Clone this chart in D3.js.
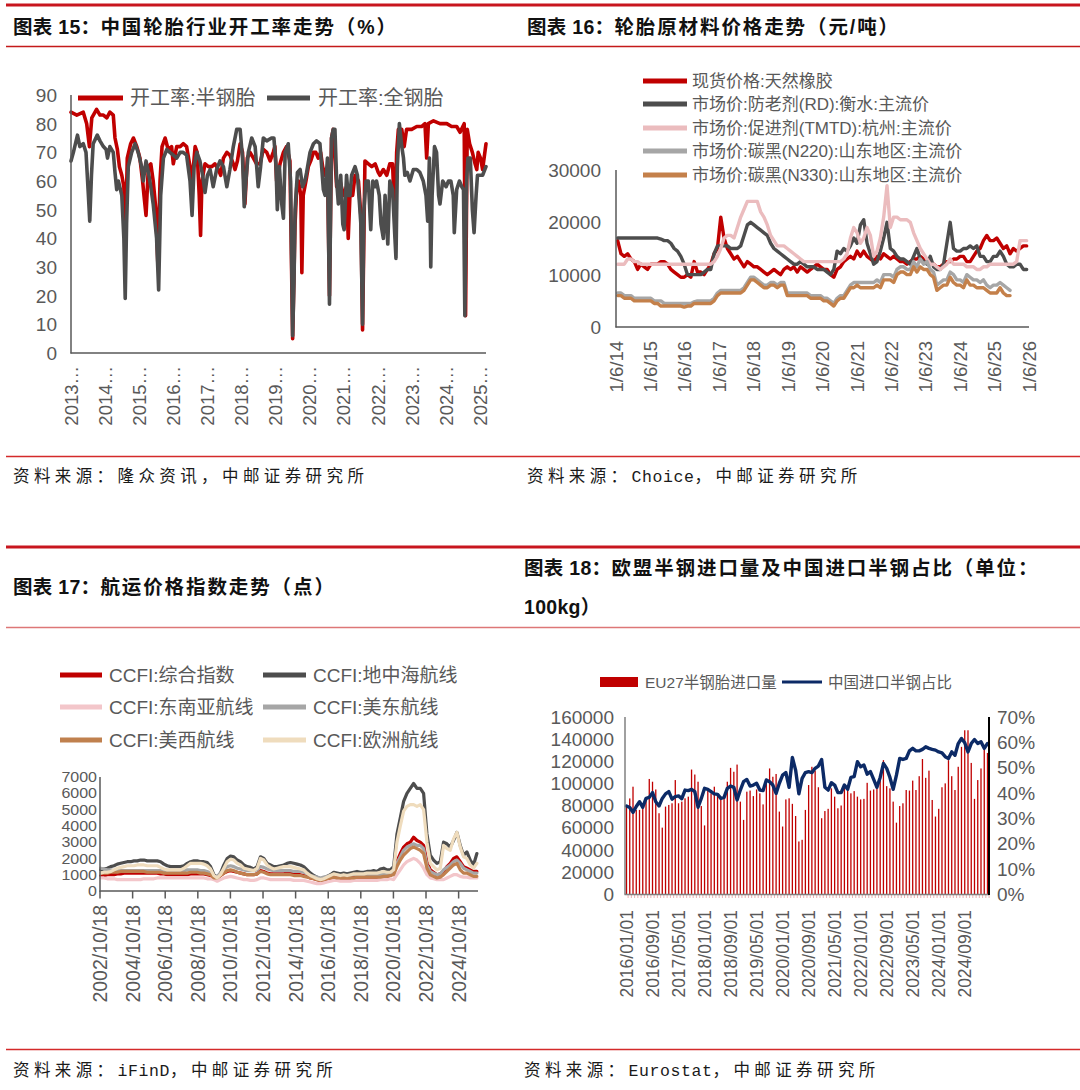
<!DOCTYPE html>
<html><head><meta charset="utf-8">
<script src="https://cdn.jsdelivr.net/npm/d3@7"></script>
<style>
body{margin:0;background:#fff;}
svg text{font-family:"Liberation Sans","Noto Sans CJK SC",sans-serif;}
</style></head><body>
<svg id="c" width="1080" height="1090"></svg>
<script>
// ---------------- DATA ----------------
// Chart 15: operating rate (%), [decimal year, value]
const rateSemi = [[2013.00,84],[2013.17,83],[2013.36,84],[2013.46,80],[2013.54,72],[2013.61,82],[2013.75,85],[2013.85,83],[2013.95,83],[2014.05,82],[2014.14,84],[2014.24,83],[2014.29,75],[2014.36,71],[2014.42,65],[2014.49,62],[2014.55,58],[2014.59,35],[2014.65,68],[2014.75,73],[2014.83,75],[2014.93,72],[2015.02,68],[2015.10,60],[2015.14,55],[2015.20,48],[2015.27,65],[2015.34,66],[2015.41,60],[2015.49,50],[2015.55,30],[2015.61,60],[2015.67,72],[2015.76,75],[2015.85,71],[2015.95,72],[2016.00,66],[2016.10,72],[2016.20,72],[2016.29,73],[2016.39,72],[2016.49,65],[2016.54,58],[2016.64,72],[2016.70,70],[2016.76,55],[2016.80,41],[2016.84,60],[2016.93,66],[2017.03,65],[2017.13,65],[2017.22,66],[2017.32,64],[2017.39,62],[2017.47,68],[2017.57,70],[2017.66,69],[2017.76,66],[2017.81,64],[2017.88,67],[2017.96,73],[2018.03,70],[2018.10,52],[2018.17,68],[2018.25,70],[2018.35,68],[2018.44,66],[2018.54,66],[2018.64,71],[2018.74,70],[2018.84,67],[2018.93,70],[2018.98,72],[2019.03,60],[2019.13,66],[2019.23,70],[2019.32,72],[2019.42,67],[2019.50,5],[2019.57,45],[2019.62,58],[2019.67,60],[2019.74,55],[2019.77,28],[2019.81,55],[2019.89,60],[2019.96,65],[2020.03,67],[2020.11,70],[2020.18,70],[2020.25,68],[2020.32,70],[2020.38,65],[2020.45,62],[2020.52,65],[2020.58,20],[2020.64,75],[2020.69,78],[2020.79,58],[2020.89,60],[2020.99,55],[2021.08,58],[2021.13,40],[2021.18,55],[2021.26,55],[2021.33,62],[2021.43,60],[2021.50,48],[2021.55,8],[2021.62,67],[2021.72,66],[2021.82,65],[2021.92,66],[2022.01,63],[2022.06,62],[2022.16,64],[2022.26,62],[2022.35,66],[2022.43,66],[2022.50,45],[2022.55,70],[2022.60,78],[2022.70,78],[2022.77,72],[2022.84,78],[2022.99,78],[2023.14,79],[2023.28,79],[2023.38,80],[2023.43,68],[2023.48,80],[2023.63,81],[2023.82,80],[2024.02,80],[2024.16,79],[2024.31,79],[2024.41,77],[2024.53,80],[2024.57,13],[2024.62,78],[2024.69,73],[2024.77,70],[2024.85,66],[2024.90,64],[2024.94,70],[2025.01,68],[2025.07,64],[2025.17,73]];
const rateAll = [[2013.00,67],[2013.07,70],[2013.19,76],[2013.26,72],[2013.36,73],[2013.44,70],[2013.51,55],[2013.55,46],[2013.60,62],[2013.65,73],[2013.77,76],[2013.85,74],[2013.95,72],[2014.03,71],[2014.07,68],[2014.14,72],[2014.24,70],[2014.29,63],[2014.34,57],[2014.39,60],[2014.49,55],[2014.55,40],[2014.59,19],[2014.63,45],[2014.68,65],[2014.78,70],[2014.88,73],[2014.97,70],[2015.07,65],[2015.12,60],[2015.20,67],[2015.27,63],[2015.34,58],[2015.41,52],[2015.51,40],[2015.57,22],[2015.63,55],[2015.71,68],[2015.81,71],[2015.90,70],[2016.00,69],[2016.10,68],[2016.20,70],[2016.29,70],[2016.39,69],[2016.49,60],[2016.55,48],[2016.61,65],[2016.69,70],[2016.78,67],[2016.86,62],[2016.93,56],[2017.00,62],[2017.08,64],[2017.17,58],[2017.27,64],[2017.37,67],[2017.47,65],[2017.57,58],[2017.66,64],[2017.76,72],[2017.86,78],[2017.96,78],[2018.03,68],[2018.08,51],[2018.13,60],[2018.20,70],[2018.30,75],[2018.40,72],[2018.49,58],[2018.56,65],[2018.64,75],[2018.74,74],[2018.88,75],[2018.95,75],[2019.01,66],[2019.05,50],[2019.11,65],[2019.18,52],[2019.23,47],[2019.28,70],[2019.37,73],[2019.44,60],[2019.50,6],[2019.54,25],[2019.57,50],[2019.64,63],[2019.72,64],[2019.79,58],[2019.86,60],[2019.91,63],[2020.01,70],[2020.11,73],[2020.20,74],[2020.30,73],[2020.35,65],[2020.40,57],[2020.45,55],[2020.52,68],[2020.58,17],[2020.64,75],[2020.69,78],[2020.74,78],[2020.79,60],[2020.84,52],[2020.91,62],[2020.97,45],[2021.01,43],[2021.08,62],[2021.13,55],[2021.18,55],[2021.23,62],[2021.33,65],[2021.40,62],[2021.46,52],[2021.50,45],[2021.55,10],[2021.59,50],[2021.65,60],[2021.72,60],[2021.79,43],[2021.85,60],[2021.92,58],[2021.96,60],[2022.04,55],[2022.09,45],[2022.16,40],[2022.21,55],[2022.26,45],[2022.29,38],[2022.35,60],[2022.43,57],[2022.50,40],[2022.53,33],[2022.57,65],[2022.63,80],[2022.70,72],[2022.75,68],[2022.79,62],[2022.86,63],[2022.94,60],[2023.04,64],[2023.14,64],[2023.23,63],[2023.33,60],[2023.41,55],[2023.46,46],[2023.51,68],[2023.55,30],[2023.59,55],[2023.66,72],[2023.72,70],[2023.78,55],[2023.82,52],[2023.90,60],[2024.00,58],[2024.07,60],[2024.14,60],[2024.21,55],[2024.24,42],[2024.31,57],[2024.39,60],[2024.46,58],[2024.51,57],[2024.55,13],[2024.60,60],[2024.64,68],[2024.71,68],[2024.77,50],[2024.82,42],[2024.88,55],[2024.92,62],[2024.99,62],[2025.07,62],[2025.17,65]];
const years15 = [2013,2014,2015,2016,2017,2018,2019,2020,2021,2022,2023,2024,2025];
const yTicks15 = [0,10,20,30,40,50,60,70,80,90];

// Chart 16: raw material prices (yuan/t), sampled every ~35 days from late Jan 2014
const rubber = [16500,14000,13500,14000,13000,12500,11000,12000,11500,11000,
 12000,12000,12000,12500,12500,12000,11000,10500,10000,9500,
 9500,10000,9500,12500,10500,10500,10000,11000,12000,14000,
 15000,21000,17000,15000,14000,13000,13500,12500,11500,12500,
 12000,11500,11500,11000,10500,10000,10500,11000,10500,10000,
 11000,11500,11000,11500,10500,11500,11000,10500,11000,11500,
 12000,11500,11000,11000,10000,9500,11000,11500,12500,13000,
 13500,13000,14500,13500,14500,13500,13000,12500,13500,13000,
 14000,13500,13000,13500,13000,12500,12500,12000,12500,13000,
 13000,13500,13000,12500,12500,12000,11500,11500,12000,12500,
 12500,13000,13000,13500,13500,12500,12500,13500,14500,15000,
 16500,17500,16500,16500,17000,16000,15000,15500,14000,15000,
 14500,15000,15500,15500];
const antioxRD = [17000,17000,17000,17000,17000,17000,17000,17000,17000,17000,
 17000,17000,17000,16800,16500,16500,16000,15000,14500,13500,
 12000,10000,10000,10000,10000,10000,10500,11000,11000,14000,
 15500,15500,15500,15500,15000,15000,15000,15500,17500,19500,
 20000,19500,19000,18500,18000,17500,16000,15000,14500,14000,
 13500,13000,12500,12000,12000,12500,12000,11500,11500,11500,
 11000,11000,11000,10500,10000,11000,14500,14000,15000,14500,
 15500,17000,16000,19500,20500,16000,14000,12000,12500,14500,
 17000,20000,15000,14500,13500,13000,13000,12500,12000,13500,
 15000,13000,12500,12000,13500,11500,11000,11000,12000,16000,
 20000,15000,14500,14500,15000,15000,15500,15000,15500,13500,
 13500,12500,12500,13500,13500,14500,13500,12000,11500,11500,
 12000,12000,11000,11000];
const accelTMTD = [12000,12000,12000,13000,13000,12500,12500,12000,12000,12000,
 12000,12000,12000,12000,12000,12000,12000,12000,12000,12000,
 12000,12000,12000,12000,12000,12000,12000,12000,12000,12500,
 13500,15000,17000,17500,17500,17000,19000,21000,22500,24000,
 24000,24000,24000,22000,21000,19500,17500,16500,15500,15500,
 15500,15000,14500,14000,13500,13000,12500,12500,12500,12500,
 12500,12500,12500,12500,12500,12500,12500,12500,13000,14000,
 17000,19000,18000,16000,17000,19000,17500,13500,14500,17000,
 21000,27000,19000,21000,21000,20500,20500,20500,20000,18000,
 16500,15000,14000,13000,12000,12000,11500,11000,11500,12000,
 13000,12000,12000,12000,12000,11500,11500,11500,11000,11000,
 11500,11500,12000,12000,12000,12000,12000,12000,12000,12000,
 12500,16500,16500,16500];
const blackN220 = [6500,6500,6000,6000,6000,5500,5500,5500,5500,5500,
 5500,5000,5000,5000,4500,4500,4500,4500,4500,4500,
 4500,4500,4500,4800,5000,5000,5000,5000,5000,5500,
 6500,7000,7000,7000,7000,7000,7000,7000,7500,8500,
 9500,9500,9000,8500,8000,8000,8500,8500,8000,8500,
 8500,6500,6500,6500,6500,6500,6500,6500,6000,6000,
 6000,6000,5500,5500,5000,4500,5500,6000,6000,7000,
 8000,8500,8500,8500,8500,8500,8500,8500,9000,8500,
 10000,10000,10000,9500,11000,11500,11500,11000,11000,12500,
 11500,13000,12000,12500,11000,10500,8000,8500,9000,9000,
 10500,10000,9000,9000,8500,10000,9500,9000,9000,8500,
 9000,8000,7500,8000,8000,8500,8000,7500,7000];
const blackN330 = [6000,6000,5500,5500,5500,5000,5000,5000,5000,5000,
 5000,4500,4500,4000,4000,4000,4000,4000,4000,4000,
 3800,4000,4000,4500,4500,4500,4500,4500,4500,5000,
 6000,6500,6500,6500,6500,6500,6500,6500,7000,8000,
 9000,9000,8500,8000,7500,7500,8000,8000,7500,8000,
 8000,6000,6000,6000,6000,6000,6000,6000,5500,5500,
 5500,5500,5000,5000,4500,4000,5000,5500,5500,6500,
 7500,7500,8000,7500,7500,7500,7500,7500,8000,7500,
 9000,9000,9000,8500,10000,10500,10500,10000,10000,11500,
 10500,11500,11000,11000,10000,9500,7000,7500,8000,8000,
 9500,8500,8000,8000,7500,9000,8000,8000,7500,7500,
 7500,7000,6500,6500,6500,7500,6500,6000,6000];
const names16 = ["现货价格:天然橡胶","市场价:防老剂(RD):衡水:主流价","市场价:促进剂(TMTD):杭州:主流价","市场价:碳黑(N220):山东地区:主流价","市场价:碳黑(N330):山东地区:主流价"];
const yTicks16 = [0,10000,20000,30000];
const years16 = [2014,2015,2016,2017,2018,2019,2020,2021,2022,2023,2024,2025,2026];

// Chart 17: CCFI indices, sampled every ~74.6 days from Oct 2002
const ccfiAll = [950,950,1000,1000,1000,1050,1050,1100,1100,1100,
 1100,1100,1100,1100,1100,1100,1100,1100,1050,1050,
 1000,1000,1000,1000,1000,1000,1000,1050,1050,1050,
 1050,1050,1000,950,800,800,950,1100,1200,1250,
 1200,1150,1100,1050,1000,1000,1000,1050,1250,1200,
 1100,1050,1050,1050,1050,1050,1100,1100,1050,1050,
 1000,950,900,800,750,700,650,700,750,800,
 850,850,800,800,800,800,850,850,850,850,
 850,850,850,850,900,950,900,950,1100,1800,
 2300,2700,2900,3000,3300,3100,3000,2800,1800,1300,
 1150,1000,1050,1200,1500,1700,2000,2100,1800,1500,
 1400,1300,1200,1200];
const ccfiMed = [1300,1350,1400,1500,1550,1650,1700,1750,1800,1800,
 1850,1850,1900,1900,1850,1850,1850,1850,1800,1650,
 1550,1500,1500,1500,1500,1550,1700,1800,1850,1850,
 1800,1800,1750,1500,1000,850,1100,1600,2000,2150,
 2100,1900,1800,1600,1500,1450,1350,1500,2100,2000,
 1700,1600,1500,1500,1550,1600,1700,1750,1700,1650,
 1600,1500,1300,1100,950,850,750,800,900,1000,
 1150,1100,1050,1100,1050,1100,1150,1200,1150,1150,
 1200,1200,1250,1200,1350,1400,1300,1300,1500,3500,
 4500,5500,6000,6300,6600,6300,6300,6000,3500,2200,
 1900,1700,1800,3000,2900,2700,3100,3600,2800,2200,
 2400,1900,1600,2300];
const ccfiSEA = [800,800,750,750,750,700,700,700,700,700,
 700,700,700,750,750,750,750,800,800,800,
 800,800,800,800,800,800,800,800,800,800,
 800,800,750,750,700,600,700,800,850,900,
 850,800,750,700,700,650,650,700,800,800,
 750,700,700,700,700,700,700,700,650,650,
 650,650,600,550,500,450,450,500,550,600,
 650,650,600,600,600,600,650,650,650,650,
 650,650,650,650,700,700,700,750,700,1000,
 1300,1600,1800,1900,2000,1900,1700,1400,1000,800,
 750,700,700,700,800,900,1000,1000,900,850,
 850,800,800,800];
const ccfiUSE = [1400,1350,1300,1300,1250,1250,1250,1250,1250,1250,
 1250,1250,1250,1250,1250,1250,1250,1250,1250,1200,
 1200,1200,1200,1200,1250,1250,1300,1300,1300,1300,
 1250,1250,1200,1100,850,900,1100,1300,1500,1550,
 1500,1400,1350,1300,1250,1250,1250,1300,1500,1450,
 1350,1300,1250,1250,1250,1250,1250,1250,1200,1200,
 1200,1150,1050,950,900,850,800,850,900,950,
 1000,1000,950,950,950,950,1000,1000,1000,1000,
 1000,1000,1000,1000,1000,1050,1050,1100,1100,1700,
 2100,2500,2700,2800,2900,2800,2800,2600,1600,1200,
 1100,1000,1050,1300,1450,1600,1800,1900,1700,1400,
 1300,1200,1100,1100];
const ccfiUSW = [1100,1100,1100,1150,1150,1150,1200,1200,1200,1200,
 1200,1200,1200,1200,1150,1150,1150,1150,1150,1100,
 1100,1100,1100,1100,1100,1100,1100,1150,1150,1150,
 1100,1100,1050,1000,800,800,950,1100,1250,1300,
 1250,1150,1100,1050,1000,1000,1000,1050,1200,1150,
 1050,1000,1000,1000,1000,1000,1000,1000,950,950,
 950,900,850,800,750,700,650,700,750,800,
 850,800,800,800,800,800,800,850,850,850,
 850,850,850,850,850,900,900,950,1000,1500,
 1900,2200,2400,2600,2700,2600,2500,2300,1400,1000,
 900,800,850,1000,1200,1400,1600,1700,1300,1100,
 1100,1000,900,900];
const ccfiEU = [1100,1150,1150,1200,1300,1400,1450,1500,1550,1550,
 1550,1600,1600,1600,1550,1550,1550,1550,1450,1350,
 1300,1300,1300,1300,1300,1400,1550,1700,1700,1700,
 1700,1650,1550,1350,950,800,1000,1400,1800,1950,
 1900,1700,1600,1400,1350,1300,1250,1400,2000,1900,
 1600,1450,1350,1400,1450,1500,1500,1500,1450,1400,
 1350,1300,1100,950,850,750,700,750,850,950,
 1050,1000,950,1000,950,1000,1050,1050,1050,1050,
 1100,1100,1100,1100,1150,1200,1150,1150,1300,3000,
 4000,4900,5200,5300,5300,5200,5300,5000,3000,1700,
 1500,1300,1400,2800,2600,2500,3200,3600,2700,2100,
 2000,1600,1400,1700];
const names17 = ["CCFI:综合指数","CCFI:地中海航线","CCFI:东南亚航线","CCFI:美东航线","CCFI:美西航线","CCFI:欧洲航线"];
const yTicks17 = [0,1000,2000,3000,4000,5000,6000,7000];
const years17 = [2002,2004,2006,2008,2010,2012,2014,2016,2018,2020,2022,2024];

// Chart 18: EU27 semi-steel tyre imports (100kg) and China share (%), monthly 2016/01–2025/04
const euImports = [79500,86400,97000,76000,76000,79000,85000,104000,101500,94500,
 73000,60000,79000,80500,82000,103000,82000,83500,86500,88000,
 112500,108000,101500,79500,62000,94000,91000,97000,89500,88000,
 86000,101500,114000,110500,117000,83500,67000,92500,93500,88500,
 94500,91000,81000,103500,113500,106000,108500,74500,61000,85500,
 86500,81500,70500,47500,49000,76000,98500,115000,111500,96500,
 68500,75000,77000,95500,88000,77500,80000,97000,96500,91000,
 93000,88000,85500,86000,100500,93500,94500,96500,107500,121000,
 97500,95500,83500,64500,79500,82000,94000,93500,102500,94000,
 106500,122000,105000,111500,85000,70000,77000,96500,100000,121000,
 106500,94000,115000,133000,148000,148000,118500,86000,103000,113500,
 133000,127500];
const cnShare = [34.8,34.2,32.3,34.6,36.5,34.3,37.8,38.2,40.1,36.5,
 34.8,37.8,39.6,40.5,37.5,38.5,38.8,37.7,41.1,40.9,
 41.4,40.5,34.3,37.8,41.8,41.4,40.5,39.6,39.4,37.8,
 38.2,41.8,42.7,42.2,37.2,41.1,44.4,45.3,42.7,43.1,
 43.8,41.1,40.9,45.1,44.4,43.1,39.8,43.8,47.0,48.0,
 42.2,54.0,49.0,39.6,45.7,48.0,48.4,48.0,49.7,50.6,
 53.2,42.2,41.1,44.0,43.1,40.1,40.1,43.1,41.4,46.1,
 46.4,52.3,50.3,51.0,47.4,48.4,45.3,42.2,46.1,51.6,
 49.7,46.1,41.4,47.0,53.6,53.2,53.6,56.6,57.6,56.6,
 56.6,57.2,58.2,57.6,57.2,56.9,56.2,55.8,54.3,53.6,
 56.2,54.9,59.5,61.5,59.8,56.2,59.5,61.1,59.5,60.2,
 57.6,59.5];
const months18 = d3.range(112).map(i => {const y = 2016 + Math.floor(i/12), m = i%12 + 1; return `${y}/${String(m).padStart(2,"0")}/01`;});
const yTicks18L = [0,20000,40000,60000,80000,100000,120000,140000,160000];
const yTicks18R = [0,10,20,30,40,50,60,70];

// ---------------- DRAWING ----------------
const svg = d3.select("#c");
const AX = "#595959";
function hline(y, w, color){ svg.append("line").attr("x1",6).attr("x2",1080).attr("y1",y).attr("y2",y).attr("stroke",color).attr("stroke-width",w); }
hline(5, 3, "#c8161e"); hline(46.5, 1.3, "#c41a1a"); hline(456.5, 1.3, "#d42a2a");
hline(547, 3, "#c8161e"); hline(627.5, 1.5, "#dd7777"); hline(1049.5, 1.3, "#d42a2a");

function title(x, y, pre, rest){
  const t = svg.append("text").attr("x",x).attr("y",y).attr("font-size",19.5).attr("font-weight",700).attr("fill","#111");
  t.append("tspan").attr("letter-spacing",0.3).text(pre);
  t.append("tspan").attr("letter-spacing",1.9).text(rest);
}
title(13, 34, "图表 15：", "中国轮胎行业开工率走势（%）");
title(527, 34, "图表 16：", "轮胎原材料价格走势（元/吨）");
title(13, 594, "图表 17：", "航运价格指数走势（点）");
title(524, 575, "图表 18：", "欧盟半钢进口量及中国进口半钢占比（单位：");
title(524, 614, "100kg）", "");

function source(x, y, a, latin, b){
  const t = svg.append("text").attr("x",x).attr("y",y).attr("font-size",16.5).attr("fill","#1a1a1a");
  t.append("tspan").attr("letter-spacing",4.4).attr("font-family","Noto Sans CJK SC").text(a);
  t.append("tspan").attr("letter-spacing",0.6).attr("font-family","Liberation Mono").text(latin);
  t.append("tspan").attr("letter-spacing",4.4).attr("font-family","Noto Sans CJK SC").text(b);
}
source(13, 482, "资料来源：", "", "隆众资讯，中邮证券研究所");
source(527, 482, "资料来源：", "Choice", "，中邮证券研究所");
source(13, 1076, "资料来源：", "iFinD", "，中邮证券研究所");
source(524, 1076, "资料来源：", "Eurostat", "，中邮证券研究所");

function vlabel(x, yTop, str, size){
  svg.append("text").attr("transform",`translate(${x},${yTop}) rotate(-90)`).attr("text-anchor","end")
    .attr("dy","0.36em").attr("font-size",size).attr("fill",AX).text(str);
}
function ylabel(x, y, str, size, anchor){
  return svg.append("text").attr("x",x).attr("y",y).attr("dy","0.36em").attr("text-anchor",anchor||"end")
    .attr("font-size",size).attr("fill",AX).text(str);
}
function seg(x1,y1,x2,y2,color,w){ svg.append("line").attr("x1",x1).attr("y1",y1).attr("x2",x2).attr("y2",y2).attr("stroke",color).attr("stroke-width",w); }
function path(data, line, color, w){
  svg.append("path").datum(data).attr("d",line).attr("fill","none").attr("stroke",color)
    .attr("stroke-width",w).attr("stroke-linejoin","round").attr("stroke-linecap","round");
}
function legLine(x1, x2, y, color, w, tx, str, size){
  seg(x1,y,x2,y,color,w);
  svg.append("text").attr("x",tx).attr("y",y).attr("dy","0.36em").attr("font-size",size).attr("fill",AX).text(str);
}

// ---- Chart 15 ----
{
  const x = d3.scaleLinear().domain([2013, 2025.17]).range([71, 486]);
  const y = d3.scaleLinear().domain([0, 90]).range([353, 95]);
  yTicks15.forEach(v => ylabel(57, y(v), v, 19));
  years15.forEach(yr => vlabel(x(yr), 366, yr + "…", 18.5));
  const ln = d3.line().x(d => x(d[0])).y(d => y(d[1]));
  path(rateSemi, ln, "#c00000", 3.6);
  path(rateAll, ln, "#4d4d4d", 3.6);
  seg(71, 95, 71, 353.5, AX, 1.5);
  seg(70.5, 353, 486, 353, AX, 1.5);
  legLine(78, 123, 98, "#c00000", 5, 130, "开工率:半钢胎", 20);
  legLine(267, 310, 98, "#4d4d4d", 5, 318, "开工率:全钢胎", 20);
}

// ---- Chart 16 ----
{
  const T0 = new Date(2014,0,6).getTime();
  const x = d3.scaleTime().domain([new Date(2014,0,6), new Date(2026,0,6)]).range([616, 1029]);
  const y = d3.scaleLinear().domain([0, 30000]).range([327, 170]);
  const dt = i => new Date(T0 + (17.6 + 35.29 * i) * 864e5);
  const ln = d3.line().x((d,i) => x(dt(i))).y(d => y(d));
  yTicks16.forEach(v => ylabel(601, y(v), v, 19));
  years16.forEach(yr => vlabel(x(new Date(yr,0,6)), 341, "1/6/" + String(yr).slice(2), 18.5));
  const cols = ["#c00000","#4d4d4d","#ebbcbe","#a6a6a6","#c4804a"];
  [rubber, antioxRD, accelTMTD, blackN220, blackN330].forEach((s,k) => path(s, ln, cols[k], 3.4));
  seg(616, 170, 616, 327.5, AX, 1.5);
  seg(615.5, 327, 1029, 327, AX, 1.5);
  const rows = [81, 104, 128, 151, 175];
  names16.forEach((n,k) => legLine(643, 687, rows[k], cols[k], 5, 692, n, 17));
}

// ---- Chart 17 ----
{
  const T0 = new Date(2002,9,18).getTime();
  const x = d3.scaleTime().domain([new Date(2002,9,18), new Date(2025,11,26)]).range([100, 478]);
  const y = d3.scaleLinear().domain([0, 7000]).range([891, 777]);
  const dt = i => new Date(T0 + (14.9 + 74.6 * i) * 864e5);
  const ln = d3.line().x((d,i) => x(dt(i))).y(d => y(d));
  yTicks17.forEach(v => ylabel(97, y(v), v, 14.3).attr("textLength", String(v).length * 8.9).attr("lengthAdjust","spacingAndGlyphs"));
  const cols = ["#c00000","#4d4d4d","#f3c6ca","#a6a6a6","#c0804e","#efdcbd"];
  const series = [ccfiAll, ccfiMed, ccfiSEA, ccfiUSE, ccfiUSW, ccfiEU];
  series.forEach((s,k) => path(s, ln, cols[k], 3.2));
  seg(100, 777, 100, 891.5, AX, 1.5);
  seg(99.5, 891, 478, 891, AX, 1.5);
  years17.forEach(yr => {
    const xx = x(new Date(yr,9,18));
    seg(xx, 891, xx, 898.5, AX, 1.5);
    vlabel(xx, 905, yr + "/10/18", 19.5);
  });
  const lx = [[60,102,109],[263,306,313]];
  const ly = [675, 707, 740];
  names17.forEach((n,k) => { const c = lx[k%2], r = ly[Math.floor(k/2)]; legLine(c[0], c[1], r, cols[k], 5, c[2], n, 19); });
}

// ---- Chart 18 ----
{
  const x = d3.scalePoint().domain(months18).range([626.5, 987.5]);
  const yL = d3.scaleLinear().domain([0, 160000]).range([894, 717]);
  const yR = d3.scaleLinear().domain([0, 70]).range([894, 717]);
  yTicks18L.forEach(v => ylabel(614, yL(v), v, 19));
  yTicks18R.forEach(v => ylabel(997, yR(v), v + "%", 19, "start"));
  svg.append("g").selectAll("rect").data(euImports).join("rect")
    .attr("x", (d,i) => x(months18[i]) - 0.65).attr("width", 1.3)
    .attr("y", d => yL(d)).attr("height", d => yL(0) - yL(d)).attr("fill", "#c00000");
  months18.forEach((m,i) => { const xx = x(m) + 1.6; seg(xx, 894, xx, 898, "#e3a0a0", 0.8); });
  const ln = d3.line().x((d,i) => x(months18[i])).y(d => yR(d));
  path(cnShare, ln, "#0c2a66", 3.4);
  seg(625, 717, 625, 894.5, "#808080", 1.5);
  seg(624.5, 894.5, 989, 894.5, "#808080", 1.5);
  seg(989, 717, 989, 895, "#000", 2);
  d3.range(0, 112, 8).forEach(i => vlabel(x(months18[i]), 910, months18[i], 17.5));
  svg.append("rect").attr("x",600).attr("y",677).attr("width",38).attr("height",10).attr("fill","#c00000");
  svg.append("text").attr("x",645).attr("y",682).attr("dy","0.36em").attr("font-size",15.5).attr("fill",AX).text("EU27半钢胎进口量");
  legLine(782, 822, 682, "#0c2a66", 3, 828, "中国进口半钢占比", 15.5);
}
</script></body></html>
